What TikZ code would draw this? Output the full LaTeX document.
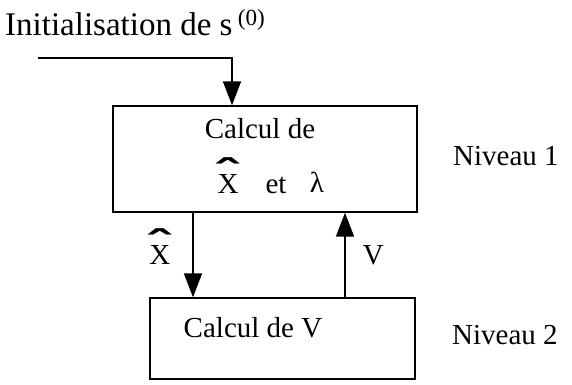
\documentclass[tikz,border=0pt]{standalone}
\usepackage{fontspec}
\setmainfont{Liberation Serif}
\newfontfamily\hatfont{DejaVu Sans}
\usepackage{graphicx}
\usetikzlibrary{arrows.meta, positioning, calc}

% X with a wide hat set well above it
\newcommand{\hatX}{\ooalign{X\cr\hidewidth\raisebox{0.27em}{\scalebox{2.3}[1.2]{\hatfont\bfseries\char"02C6}}\hidewidth\cr}}

\begin{document}
\begin{tikzpicture}[
    x=1pt, y=-1pt,
    box/.style={draw, line width=1.4pt, inner sep=0pt},
    lbl/.style={font=\fontsize{29}{34}\selectfont, inner sep=0pt},
    arrow/.style={-{Triangle[length=24pt, width=18pt]}, line width=1.6pt},
]
    \useasboundingbox (0,0) rectangle (572,384);

    \node[box, minimum width=304pt, minimum height=106pt] (calc1) at (265,159) {};
    \node[box, minimum width=265pt, minimum height=81pt] (calcV) at (282.5,338.5) {};

    \node[lbl, anchor=base west, font=\fontsize{33}{38}\selectfont] (init) at (5,35) {Initialisation de s\,\textsuperscript{(0)}};
    \node[lbl, anchor=base] (calcde) at (260,138) {Calcul de};
    \node[lbl, anchor=base] (xhat) at (228,193) {\hatX};
    \node[lbl, anchor=base] (et) at (276,193) {et};
    \node[lbl, anchor=base] (lambda) at (317,192) {λ};
    \node[lbl, anchor=base] (calcVtxt) at (253,337) {Calcul de V};
    \node[lbl, anchor=base west] (niv1) at (453,165) {Niveau 1};
    \node[lbl, anchor=base west] (niv2) at (452,344) {Niveau 2};

    \coordinate (start) at (38,58);

    \draw[arrow] (start) -| ([xshift=-33pt]calc1.north);
    \draw[arrow] ([xshift=-72pt]calc1.south) -- ([xshift=-72pt]calc1.south |- calcV.north)
        node[lbl, midway, left=22pt] (xlab) {\hatX};
    \draw[arrow] ([xshift=80pt]calc1.south |- calcV.north) -- ([xshift=80pt]calc1.south)
        node[lbl, midway, right=17pt] (vlab) {V};
\end{tikzpicture}
\end{document}
